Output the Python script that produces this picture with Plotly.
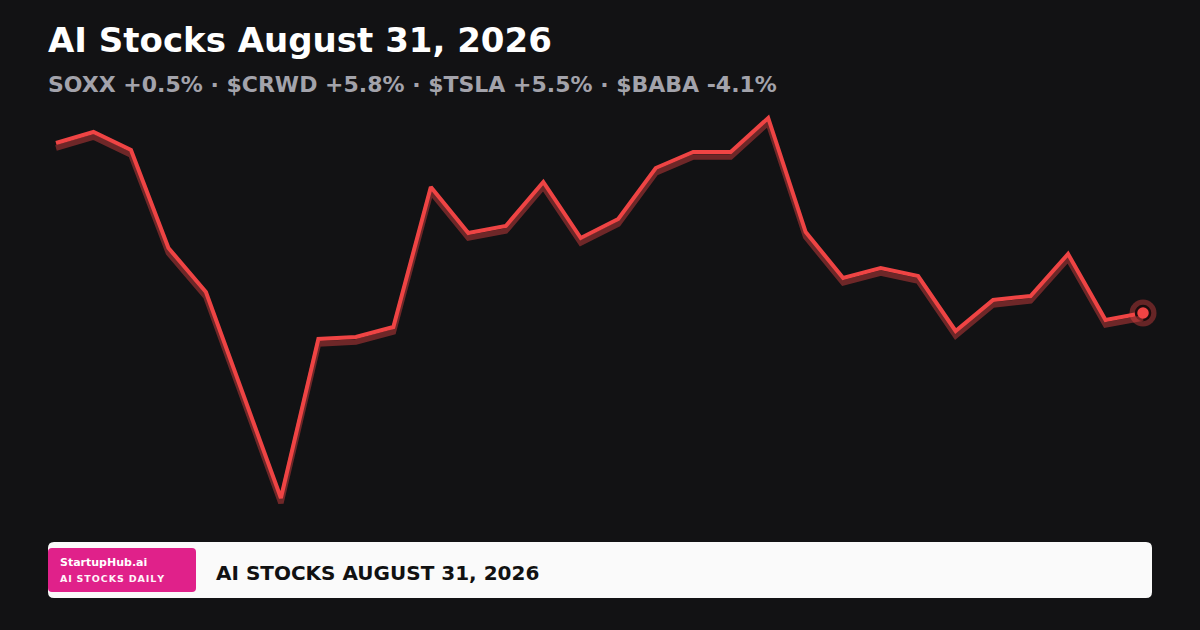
import plotly.graph_objects as go

# closing levels (one per session)
days = list(range(30))
values = [41.7, 42.8, 41.0, 31.2, 26.8, 16.5, 6.2, 22.1, 22.3, 23.3,
          37.3, 32.7, 33.4, 37.8, 32.2, 34.1, 39.2, 40.8, 40.8, 44.2,
          32.8, 28.2, 29.2, 28.4, 22.9, 26.0, 26.4, 30.6, 24.0, 24.7]

title = 'AI Stocks August 31, 2026'
subtitle = 'SOXX +0.5% · $CRWD +5.8% · $TSLA +5.5% · $BABA -4.1%'
brand = 'StartupHub.ai'
brand_tag = 'AI STOCKS DAILY'
banner_text = 'AI STOCKS AUGUST 31, 2026'

RED = '#ef4444'
BG = '#121214'
FONT = 'DejaVu Sans'

W, H = 1200, 630
x_range = [-1.494, 30.52]
y_range = [-7, 56]
shadow_shift = 0.5  # drop shadow sits ~5px below the line

fig = go.Figure()

# shadow: same data on an axis nudged up, so it lands a few px lower
fig.add_trace(go.Scatter(
    x=days, y=values, mode='lines', yaxis='y2',
    line=dict(color='rgba(239,68,68,0.42)', width=5.5),
    hoverinfo='skip'))

fig.add_trace(go.Scatter(
    x=days, y=values, mode='lines',
    line=dict(color=RED, width=4),
    hoverinfo='skip'))

# last point marker with halo
fig.add_trace(go.Scatter(
    x=days[-1:], y=values[-1:], mode='markers',
    marker=dict(size=27, color='rgba(239,68,68,0.38)', line=dict(width=0)),
    hoverinfo='skip'))
fig.add_trace(go.Scatter(
    x=days[-1:], y=values[-1:], mode='markers',
    marker=dict(size=14, color=RED, line=dict(width=2.5, color='#1a0c0d')),
    hoverinfo='skip'))

fig.update_layout(
    width=W, height=H,
    margin=dict(l=0, r=0, t=0, b=0),
    paper_bgcolor=BG, plot_bgcolor=BG,
    showlegend=False,
    xaxis=dict(range=x_range, visible=False, fixedrange=True),
    yaxis=dict(range=y_range, visible=False, fixedrange=True),
    yaxis2=dict(range=[y_range[0] + shadow_shift, y_range[1] + shadow_shift],
                overlaying='y', visible=False, fixedrange=True),
    font=dict(family=FONT),
)


def rounded_box(x0, y0, x1, y1, r, color):
    # pixel box -> paper path with rounded corners
    px = lambda v: v / W
    py = lambda v: 1 - v / H
    path = (f'M {px(x0 + r)},{py(y0)} L {px(x1 - r)},{py(y0)} '
            f'Q {px(x1)},{py(y0)} {px(x1)},{py(y0 + r)} '
            f'L {px(x1)},{py(y1 - r)} Q {px(x1)},{py(y1)} {px(x1 - r)},{py(y1)} '
            f'L {px(x0 + r)},{py(y1)} Q {px(x0)},{py(y1)} {px(x0)},{py(y1 - r)} '
            f'L {px(x0)},{py(y0 + r)} Q {px(x0)},{py(y0)} {px(x0 + r)},{py(y0)} Z')
    fig.add_shape(type='path', path=path, xref='paper', yref='paper',
                  fillcolor=color, line=dict(width=0), layer='above')


# bottom banner
rounded_box(48, 542, 1152, 598, 6, '#fafafa')
rounded_box(48, 548, 196, 592, 4, '#e0218a')


def txt(text, x, y, size, color, anchor='left'):
    fig.add_annotation(text=text, x=x / W, y=1 - y / H, xref='paper', yref='paper',
                       xanchor=anchor, yanchor='middle', showarrow=False,
                       font=dict(family=FONT, size=size, color=color, weight='bold'))


txt(title, 46, 40, 34, '#ffffff')
txt(subtitle, 46, 85, 22, '#a3a3ab')
txt(brand, 58, 562, 11, '#ffffff')
txt(' '.join(brand_tag).replace('   ', '\u2002').replace(' ', '\u200a'), 58, 578, 9.5, '#fff4f9')
txt(banner_text, 214, 573, 20, '#111111')

# drop the default page margin so the figure fills the window
fig.write_html('out.html', config={'displayModeBar': False},
               post_script="document.body.style.margin='0';")
